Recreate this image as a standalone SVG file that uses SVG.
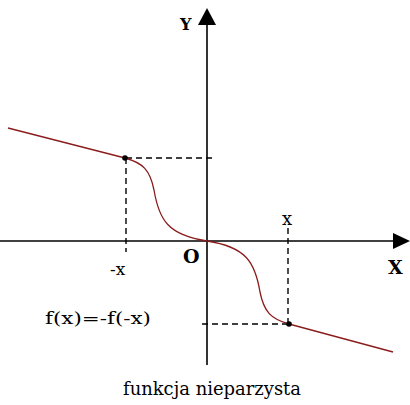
<svg xmlns="http://www.w3.org/2000/svg" width="410" height="405" viewBox="0 0 410 405">
<style>
.axis{stroke:#000;stroke-width:1.6;fill:none}
.dash{stroke:#000;stroke-width:1.4;stroke-dasharray:6,4;fill:none}
.curve{stroke:#8b1c1c;stroke-width:1.3;fill:none}
text{font-family:"DejaVu Serif","Liberation Serif",serif;fill:#000}
</style>
<rect width="410" height="405" fill="#fff"/>
<g id="axes">
<line class="axis" x1="0" y1="241" x2="396" y2="241"/>
<polygon points="393,233 410,241 393,249" fill="#000"/>
<line class="axis" x1="207" y1="22" x2="207" y2="365"/>
<polygon points="198,25 207,8 216,25" fill="#000"/>
<text x="180" y="30" font-size="16" font-weight="bold">Y</text>
<text x="388" y="274" font-size="19" font-weight="bold">X</text>
<text x="183" y="263" font-size="19" font-weight="bold">O</text>
</g>
<g id="connectors">
<path class="dash" d="M126,158 H212"/>
<path class="dash" d="M126,158 V252"/>
<path class="dash" d="M288,228 V324"/>
<path class="dash" d="M202,324 H288"/>
</g>
<g id="curve">
<path class="curve" d="M8,128 L125,158 C143,163 150,170 154,190 C159,220 168,235 207,241 C246,247 255,262 260,292 C264,312 271,319 289,324 L393,352"/>
<circle cx="125" cy="158" r="2.8" fill="#000"/>
<circle cx="289" cy="324" r="2.8" fill="#000"/>
</g>
<g id="labels">
<text x="282" y="225" font-size="18">x</text>
<text x="110" y="275" font-size="17">-x</text>
<text x="45" y="324" font-size="17" textLength="106" lengthAdjust="spacingAndGlyphs">f(x)=-f(-x)</text>
<text x="123" y="395" font-size="18" textLength="178" lengthAdjust="spacingAndGlyphs">funkcja nieparzysta</text>
</g>
</svg>
